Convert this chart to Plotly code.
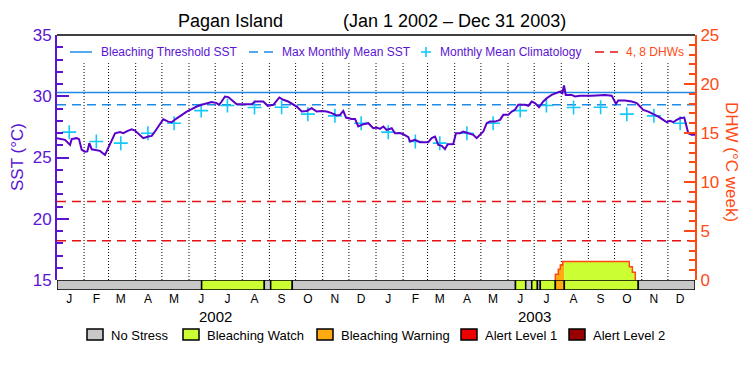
import pandas as pd
import plotly.graph_objects as go

# ---------------- data ----------------
START = pd.Timestamp("2002-01-01")
END = pd.Timestamp("2004-01-01")

# daily SST (days since 2002-01-01) and values in degC
sst_day = [0, 9.2, 14.9, 16.8, 22.5, 25.2, 28.3, 32.0, 34.7, 37.0, 39.7, 45.4, 49.2, 54.9, 58.7, 62.6, 66.4, 72.1, 75.9, 80.9,
           85.5, 89.2, 95.0, 98.7, 104.5, 108.4, 112.1, 117.9, 121.6, 127.3, 131.2, 137.0, 142.7, 148.4, 154.1, 159.8, 165.6, 171.3, 177.0, 182.7,
           185.4, 188.4, 192.2, 196.0, 199.9, 205.6, 211.3, 222.8, 226.6, 236.0, 241.1, 247.5, 254.4, 258.9, 264.6, 270.4, 274.3, 280.0, 285.7, 291.4,
           297.1, 302.9, 308.6, 314.3, 320.0, 323.8, 327.6, 330.7, 337.2, 341.0, 344.7, 350.5, 356.2, 361.9, 365.8, 369.6,
           373.4, 377.2, 383.0, 386.7, 392.5, 396.2, 402.0, 403.9, 409.6, 415.3, 424.8, 428.7, 432.5, 436.3, 440.2, 443.9, 447.0, 453.4, 456.5, 461.1,
           464.9, 470.6, 476.3, 480.2, 484.0, 487.8, 491.7, 495.4, 501.2, 506.9, 510.7, 516.4, 520.3, 524.0, 527.8, 535.5, 539.3, 543.2, 546.9,
           551.5, 556.4, 560.3, 566.0, 571.8, 575.5, 578.2, 580.1, 582.1, 588.9, 592.7, 598.4, 611.8, 619.4, 627.0, 634.7, 637.6, 639.6, 642.2, 649.9,
           657.6, 663.3, 667.1, 670.8, 676.6, 682.3, 688.0, 693.7, 697.6, 701.4, 705.2, 709.0, 712.8, 717.7, 719.3, 722.3, 726.2, 730.0]
sst_val = [26.58, 26.44, 26.03, 26.5, 26.58, 26.5, 25.62, 25.48, 25.5, 26.17, 25.67, 25.62, 25.54, 25.21, 25.76, 26.3, 26.98, 27.07, 26.98, 27.17,
           27.3, 27.2, 26.85, 26.58, 26.71, 26.76, 27.12, 27.8, 28.12, 27.93, 27.88, 28.2, 28.48, 28.75, 28.94, 29.16, 29.3, 29.44, 29.52, 29.44,
           29.3, 29.57, 29.98, 29.93, 29.71, 29.35, 29.35, 29.35, 29.57, 29.57, 29.22, 29.3, 29.9, 29.71, 29.57, 29.3, 29.16, 28.75, 28.8, 29.03,
           28.75, 28.8, 28.75, 28.62, 28.43, 28.48, 28.8, 28.26, 28.15, 28.15, 27.53, 27.72, 27.8, 27.39, 27.44, 27.34,
           27.53, 27.25, 27.39, 26.98, 27.0, 26.9, 26.66, 26.3, 26.44, 26.25, 26.25, 26.58, 26.71, 26.03, 25.95, 25.68, 26.09, 26.1, 26.98, 26.98,
           27.12, 26.98, 26.85, 26.58, 26.85, 27.12, 27.8, 27.93, 27.93, 28.07, 28.48, 28.48, 28.75, 28.89, 29.3, 29.3, 29.22, 29.57, 29.44,
           29.1, 29.57, 29.84, 30.11, 30.25, 30.38, 30.25, 30.88, 30.11, 30.11, 29.98, 30.05, 30.05, 30.1, 30.1, 30.05, 29.57, 29.38, 29.65, 29.65,
           29.57, 29.44, 29.16, 28.89, 28.75, 28.56, 28.34, 28.07, 27.88, 27.99, 27.88, 28.07, 28.2, 28.26, 27.8, 26.98, 26.85, 26.85]

# monthly mean climatology (Jan..Dec), plotted mid-month both years
clim_month_val = [27.07, 26.3, 26.17, 26.98, 27.8, 28.83, 29.24, 29.08, 29.1, 28.54, 28.4, 27.8]
clim_years = [2002, 2003]

mmm_sst = 29.3
bleaching_threshold = 30.3
dhw_levels = [4, 8]

# Degree heating weeks, step function (days since start, value from that day on)
dhw_step_day = [570.2, 573.6, 575.9, 578.6, 654.8, 658.3, 661.7]
dhw_step_val = [0.58, 1.09, 1.53, 1.9, 1.36, 0.78, 0.0]

# stress level bar: 0 No Stress, 1 Watch, 2 Warning, 3 Alert 1, 4 Alert 2
stress_start = [0, 165.5, 237.2, 244.5, 269.2, 524.6, 536.3, 543.2, 549.7, 553.0, 570.2, 580.5, 665.1]
stress_end = [165.5, 237.2, 244.5, 269.2, 524.6, 536.3, 543.2, 549.7, 553.0, 570.2, 580.5, 665.1, 730.0]
stress_level = [0, 1, 0, 1, 0, 1, 0, 1, 0, 1, 2, 1, 0]

stress_names = ["No Stress", "Bleaching Watch", "Bleaching Warning", "Alert Level 1", "Alert Level 2"]
stress_colors = ["#c8c8c8", "#ccff33", "#ffaa11", "#ee0000", "#990000"]

month_letters = ["J", "F", "M", "A", "M", "J", "J", "A", "S", "O", "N", "D"]
year_labels = ["2002", "2003"]

# ---------------- styles ----------------
PURPLE = "#5a14d2"
SSTLINE = "#5a00c8"
BLUE = "#1e8ce6"
CYAN = "#14c8fa"
ORANGE = "#ff4a14"
RED = "#e81010"
FONT = "Liberation Sans"

L, R, T, B = 57, 695, 35, 290
W, H = 750, 375


def px(x):
    return (x - L) / (R - L)


def py(y):
    return (B - y) / (B - T)


def d(day):
    return START + pd.to_timedelta(day, unit="D")


fig = go.Figure()

# stress bar
for s, e, lv in zip(stress_start, stress_end, stress_level):
    fig.add_trace(go.Scatter(x=[d(s), d(e), d(e), d(s), d(s)], y=[0, 0, 1, 1, 0], xaxis="x", yaxis="y3",
                             mode="lines", fill="toself", fillcolor=stress_colors[lv],
                             line=dict(color="black", width=1.5), hoverinfo="skip"))

# DHW reference lines
fig.add_trace(go.Scatter(x=[START, END, None, START, END], y=[dhw_levels[0], dhw_levels[0], None, dhw_levels[1], dhw_levels[1]],
                         yaxis="y2", mode="lines", line=dict(color=RED, width=1.5, dash="9px,6px"), hoverinfo="skip"))


def dhw_at(day):
    v = 0.0
    for sd, sv in zip(dhw_step_day, dhw_step_val):
        if day >= sd:
            v = sv
    return v


# DHW fill coloured by stress level
for s, e, lv in zip(stress_start, stress_end, stress_level):
    if lv == 0:
        continue
    lo = max(s, dhw_step_day[0])
    hi = min(e, dhw_step_day[-1])
    if hi <= lo:
        continue
    bps = [lo] + [b for b in dhw_step_day if lo < b < hi] + [hi]
    xs, ys = [d(lo)], [0]
    for b0, b1 in zip(bps[:-1], bps[1:]):
        v = dhw_at(b0)
        xs += [d(b0), d(b1)]
        ys += [v, v]
    xs += [d(hi), d(lo)]
    ys += [0, 0]
    fig.add_trace(go.Scatter(x=xs, y=ys, yaxis="y2", mode="lines", fill="toself",
                             fillcolor=stress_colors[lv], line=dict(width=0), hoverinfo="skip"))

# DHW outline
fig.add_trace(go.Scatter(x=[d(dhw_step_day[0])] + [d(v) for v in dhw_step_day],
                         y=[0] + dhw_step_val, yaxis="y2", mode="lines", line_shape="hv",
                         line=dict(color=ORANGE, width=1.5), hoverinfo="skip"))

# month dotted lines
month_starts = pd.date_range("2002-02-01", "2003-12-01", freq="MS")
gx, gy = [], []
for m in month_starts:
    gx += [m, m, None]
    gy += [15, 32.7, None]
fig.add_trace(go.Scatter(x=gx, y=gy, mode="lines", line=dict(color="black", width=1, dash="1px,2px"), hoverinfo="skip"))

# threshold & MMM
fig.add_trace(go.Scatter(x=[START, END], y=[bleaching_threshold] * 2, mode="lines",
                         line=dict(color=BLUE, width=1.5), hoverinfo="skip"))
fig.add_trace(go.Scatter(x=[START, END], y=[mmm_sst] * 2, mode="lines",
                         line=dict(color=BLUE, width=1.5, dash="9px,6px"), hoverinfo="skip"))

# climatology
clim_x, clim_y = [], []
for yr in clim_years:
    for mi, v in enumerate(clim_month_val):
        clim_x.append(pd.Timestamp(year=yr, month=mi + 1, day=15))
        clim_y.append(v)
fig.add_trace(go.Scatter(x=clim_x, y=clim_y, mode="markers",
                         marker=dict(symbol="cross-thin", size=10, line=dict(color=CYAN, width=1.6)), hoverinfo="skip"))

# SST
fig.add_trace(go.Scatter(x=[d(v) for v in sst_day], y=sst_val, mode="lines",
                         line=dict(color=SSTLINE, width=2), hoverinfo="skip"))

# ---------------- axes ----------------
mid_months = [pd.Timestamp(year=yr, month=m, day=15) for yr in clim_years for m in range(1, 13)]
fig.update_layout(
    width=W, height=H, margin=dict(l=L, r=W - R, t=T, b=H - B),
    plot_bgcolor="white", paper_bgcolor="white", showlegend=False,
    font=dict(family=FONT, color="black"),
    xaxis=dict(type="date", range=[START, END], anchor="y3", tickvals=mid_months,
               ticktext=month_letters * 2, ticks="", showgrid=False, showline=False, zeroline=False,
               tickfont=dict(size=12, color="black")),
    yaxis=dict(domain=[(B - 280) / (B - T), 1], range=[15, 35], anchor="x",
               tickvals=[15, 20, 25, 30, 35], ticks="inside", ticklen=12, tickwidth=1.5, tickcolor=PURPLE,
               minor=dict(dtick=1, ticks="inside", ticklen=6, tickwidth=1.5, tickcolor=PURPLE),
               showline=True, linecolor=PURPLE, linewidth=2, showgrid=False, zeroline=False,
               tickfont=dict(size=17, color=PURPLE)),
    yaxis2=dict(overlaying="y", side="right", range=[0, 25], anchor="x",
                tickvals=[0, 5, 10, 15, 20, 25], ticks="inside", ticklen=11, tickwidth=1.5, tickcolor=ORANGE,
                minor=dict(dtick=1, ticks="inside", ticklen=6, tickwidth=1.5, tickcolor=ORANGE),
                showline=True, linecolor=ORANGE, linewidth=2, showgrid=False, zeroline=False,
                tickfont=dict(size=17, color=ORANGE)),
    yaxis3=dict(domain=[0, (B - 280) / (B - T)], range=[0, 1], anchor="x", visible=False),
)

shapes = []
ann = []
# top frame
shapes.append(dict(type="line", xref="paper", yref="paper", x0=0, x1=1, y0=1, y1=1,
                   line=dict(color="black", width=1.5)))

# title
ann.append(dict(text="Pagan Island", x=px(230), y=py(21), xref="paper", yref="paper",
                showarrow=False, font=dict(size=18, color="black"), xanchor="center", yanchor="middle"))
ann.append(dict(text="(Jan 1 2002 \u2013 Dec 31 2003)", x=px(454), y=py(21), xref="paper", yref="paper",
                showarrow=False, font=dict(size=18, color="black"), xanchor="center", yanchor="middle"))

# axis titles
ann.append(dict(text="SST (\u00b0C)", x=px(17), y=py(157), xref="paper", yref="paper", textangle=-90,
                showarrow=False, font=dict(size=17, color=PURPLE), xanchor="center", yanchor="middle"))
ann.append(dict(text="DHW (\u00b0C week)", x=px(732), y=py(162), xref="paper", yref="paper", textangle=90,
                showarrow=False, font=dict(size=17, color=ORANGE), xanchor="center", yanchor="middle"))

# year labels
for yr, lab in zip(clim_years, year_labels):
    ann.append(dict(text=lab, x=pd.Timestamp(year=yr, month=7, day=1), y=py(316), xref="x", yref="paper",
                    showarrow=False, font=dict(size=15, color="black"), xanchor="center", yanchor="middle"))

# top legend
LY = 52
shapes.append(dict(type="line", xref="paper", yref="paper", x0=px(70), x1=px(92), y0=py(LY), y1=py(LY),
                   line=dict(color=BLUE, width=1.5)))
ann.append(dict(text="Bleaching Threshold SST", x=px(99), y=py(LY), xref="paper", yref="paper", showarrow=False,
                font=dict(size=12, color=PURPLE), xanchor="left", yanchor="middle"))
shapes.append(dict(type="line", xref="paper", yref="paper", x0=px(249), x1=px(274), y0=py(LY), y1=py(LY),
                   line=dict(color=BLUE, width=1.5, dash="9px,6px")))
ann.append(dict(text="Max Monthly Mean SST", x=px(280), y=py(LY), xref="paper", yref="paper", showarrow=False,
                font=dict(size=12, color=PURPLE), xanchor="left", yanchor="middle"))
shapes.append(dict(type="line", xref="paper", yref="paper", x0=px(421), x1=px(431), y0=py(LY), y1=py(LY),
                   line=dict(color=CYAN, width=1.6)))
shapes.append(dict(type="line", xref="paper", yref="paper", x0=px(426), x1=px(426), y0=py(LY - 5), y1=py(LY + 5),
                   line=dict(color=CYAN, width=1.6)))
ann.append(dict(text="Monthly Mean Climatology", x=px(438), y=py(LY), xref="paper", yref="paper", showarrow=False,
                font=dict(size=12, color=PURPLE), xanchor="left", yanchor="middle"))
shapes.append(dict(type="line", xref="paper", yref="paper", x0=px(595), x1=px(618), y0=py(LY), y1=py(LY),
                   line=dict(color=RED, width=1.5, dash="9px,6px")))
ann.append(dict(text="4, 8 DHWs", x=px(624), y=py(LY), xref="paper", yref="paper", showarrow=False,
                font=dict(size=12, color=ORANGE), xanchor="left", yanchor="middle"))

# bottom legend
box_left = [87, 183, 317, 461, 569]
for bx, name, col in zip(box_left, stress_names, stress_colors):
    shapes.append(dict(type="rect", xref="paper", yref="paper", x0=px(bx), x1=px(bx + 16), y0=py(340), y1=py(329),
                       fillcolor=col, line=dict(color="black", width=1.5)))
    ann.append(dict(text=name, x=px(bx + 22), y=py(335), xref="paper", yref="paper", showarrow=False,
                    font=dict(size=13, color="black"), xanchor="left", yanchor="middle"))

fig.update_layout(shapes=shapes, annotations=ann)

fig.write_html("out.html", config=dict(displayModeBar=False),
               post_script="document.body.style.margin='0';")
